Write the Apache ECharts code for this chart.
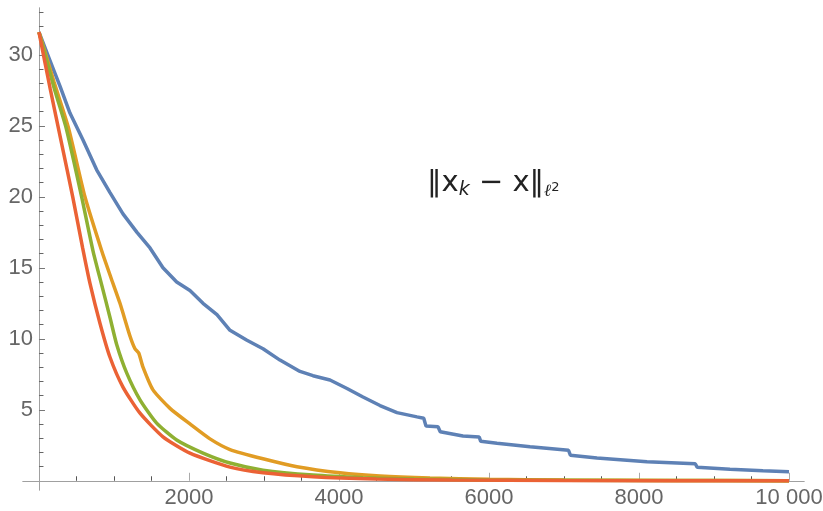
<!DOCTYPE html>
<html>
<head>
<meta charset="utf-8">
<script src="https://cdn.jsdelivr.net/npm/echarts@6/dist/echarts.min.js"></script>
<style>
  html, body { margin: 0; padding: 0; background: #fff; }
  #main { width: 823px; height: 511px; }
</style>
</head>
<body>
<div id="main"></div>
<script>
// data, [iteration, error]
var blueData = [
    [0, 31.6], [147, 29.6], [280, 27.8], [413, 25.9], [587, 24.0], [769, 21.9],
    [947, 20.3], [1120, 18.8], [1307, 17.5], [1480, 16.4], [1653, 15.0],
    [1836, 14.0], [2013, 13.4], [2187, 12.5], [2373, 11.7], [2547, 10.6],
    [2773, 9.9], [2987, 9.3], [3213, 8.5], [3480, 7.7], [3653, 7.4],
    [3880, 7.1], [4107, 6.5], [4320, 5.9], [4547, 5.3], [4773, 4.8],
    [5040, 4.5], [5130, 4.4], [5160, 3.85], [5320, 3.8], [5350, 3.45],
    [5653, 3.15], [5870, 3.08], [5890, 2.78], [6107, 2.65], [6547, 2.4],
    [7060, 2.15], [7085, 1.8], [7440, 1.6], [8107, 1.34], [8750, 1.2],
    [8775, 0.96], [9213, 0.82], [9653, 0.70], [10000, 0.63]
];
var orangeData = [
    [0, 31.6], [200, 28.1], [391, 24.9], [613, 20.0], [836, 16.2], [960, 14.3],
    [1080, 12.5], [1213, 10.2], [1280, 9.3], [1330, 9.0], [1387, 8.0],
    [1520, 6.4], [1747, 5.1], [2013, 4.0], [2280, 2.95], [2547, 2.2],
    [2987, 1.55], [3440, 0.99], [4013, 0.56], [4547, 0.33], [5213, 0.19],
    [6000, 0.1], [7000, 0.05], [8500, 0.02], [10000, 0.01]
];
var greenData = [
    [0, 31.6], [200, 27.7], [360, 24.9], [569, 20.0], [720, 16.2], [836, 13.8],
    [947, 11.5], [1036, 9.6], [1169, 7.6], [1347, 5.7], [1569, 4.06],
    [1836, 2.87], [2187, 1.95], [2547, 1.25], [2987, 0.75], [3653, 0.4],
    [4320, 0.22], [5000, 0.12], [6000, 0.06], [8000, 0.02], [10000, 0.01]
];
var redData = [
    [0, 31.6], [150, 27.6], [300, 23.8], [450, 20.0], [582, 16.4], [680, 13.9],
    [813, 11.1], [947, 8.7], [1120, 6.6], [1347, 4.76], [1653, 3.1],
    [2013, 1.95], [2547, 0.96], [2987, 0.56], [3653, 0.28], [4500, 0.12],
    [5500, 0.05], [7000, 0.02], [10000, 0.0]
];

var xMajorTicks = [2000, 4000, 6000, 8000, 10000];
var xMinorTicks = [500, 1000, 1500, 2500, 3000, 3500, 4500, 5000, 5500,
    6500, 7000, 7500, 8500, 9000, 9500];
var yMajorTicks = [5, 10, 15, 20, 25, 30];
var yMinorTicks = [1, 2, 3, 4, 6, 7, 8, 9, 11, 12, 13, 14, 16, 17, 18, 19,
    21, 22, 23, 24, 26, 27, 28, 29, 31, 32, 33];

var colors = ['#5E81B5', '#E19C24', '#8FB032', '#EB6235'];
var axisGray = '#a0a0a0';
var labelGray = '#666666';
var font = '"Liberation Sans", Arial, sans-serif';

var chart = echarts.init(document.getElementById('main'));

// labels are laid out from the grid edge, not from the zero line, hence the negative margins
function xAxisOf(ticks, len, color, showLabel) {
    return {
        type: 'value',
        position: 'bottom',
        min: -213,
        max: 10200,
        splitLine: {show: false},
        axisLine: {show: true, onZero: true, lineStyle: {color: axisGray, width: 1}},
        axisTick: {show: true, inside: true, length: len, customValues: ticks,
            lineStyle: {color: color, width: 1}},
        axisLabel: {
            show: showLabel,
            customValues: ticks,
            margin: -3,
            color: labelGray,
            fontSize: 22,
            fontFamily: font,
            formatter: function (v) {
                return v === 10000 ? '10 000' : String(v);
            }
        }
    };
}

function yAxisOf(ticks, len, color, showLabel) {
    return {
        type: 'value',
        position: 'left',
        min: -0.65,
        max: 33.3,
        splitLine: {show: false},
        axisLine: {show: true, onZero: true, lineStyle: {color: axisGray, width: 1}},
        axisTick: {show: true, inside: true, length: len, customValues: ticks,
            lineStyle: {color: color, width: 1}},
        axisLabel: {
            show: showLabel,
            customValues: ticks,
            margin: -10,
            color: labelGray,
            fontSize: 22,
            fontFamily: font
        }
    };
}

function lineSeries(data, color, smooth) {
    return {
        type: 'line',
        data: data,
        showSymbol: false,
        smooth: smooth,
        animation: false,
        lineStyle: {color: color, width: 3.5},
        itemStyle: {color: color}
    };
}

chart.setOption({
    animation: false,
    grid: {left: 23, right: 19, top: 8, bottom: 21, containLabel: false, outerBoundsMode: 'none'},
    xAxis: [
        xAxisOf(xMajorTicks, 8, '#aaaaaa', true),
        xAxisOf(xMinorTicks, 4.5, '#555555', false)
    ],
    yAxis: [
        yAxisOf(yMajorTicks, 6, '#777777', true),
        yAxisOf(yMinorTicks, 4.5, '#666666', false)
    ],
    series: [
        lineSeries(blueData, colors[0], false),
        lineSeries(orangeData, colors[1], 0.2),
        lineSeries(greenData, colors[2], 0.2),
        lineSeries(redData, colors[3], 0.2)
    ],
    graphic: [{
        type: 'text',
        left: 427,
        top: 169,
        style: {
            text: '{a|‖x}{k|k}{a| − x‖}{l|ℓ}{s|2}',
            rich: {
                a: {fontSize: 29, fontFamily: '"DejaVu Sans", sans-serif', fill: '#222'},
                k: {fontSize: 19, fontFamily: '"DejaVu Sans", sans-serif', fontStyle: 'italic',
                    fill: '#222', verticalAlign: 'bottom', padding: [14, 0, 0, 0]},
                l: {fontSize: 17, fontFamily: '"DejaVu Serif", serif', fontStyle: 'italic',
                    fill: '#222', verticalAlign: 'bottom', padding: [12, 0, 0, 0]},
                s: {fontSize: 13, fontFamily: '"DejaVu Sans", sans-serif',
                    fill: '#222', verticalAlign: 'bottom', padding: [0, 0, 6, 0]}
            }
        }
    }]
});
</script>
</body>
</html>
